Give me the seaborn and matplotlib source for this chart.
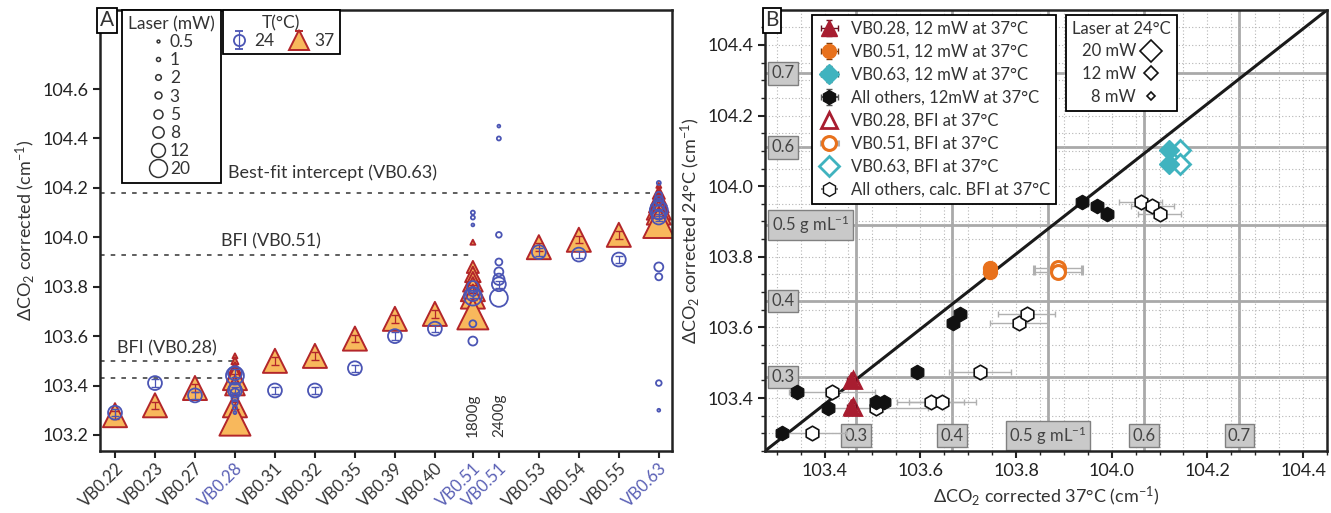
import numpy as np
import pandas as pd
import matplotlib
matplotlib.use("Agg")
import matplotlib.pyplot as plt
import matplotlib.transforms as mtransforms
from matplotlib.lines import Line2D
import seaborn as sns

sns.set_theme(style="ticks")
plt.rcParams['font.family'] = ['Lato', 'DejaVu Sans']
plt.rcParams['mathtext.fontset'] = 'custom'
plt.rcParams['mathtext.rm'] = 'Lato'
plt.rcParams['mathtext.it'] = 'Lato'
plt.rcParams['text.color'] = '#333333'
plt.rcParams['axes.labelcolor'] = '#333333'
plt.rcParams['xtick.color'] = '#222222'
plt.rcParams['ytick.color'] = '#222222'

# ---------------- panel A data ----------------
sample_a = ['VB0.22', 'VB0.23', 'VB0.27', 'VB0.28', 'VB0.31', 'VB0.32', 'VB0.35',
            'VB0.39', 'VB0.40', 'VB0.51', 'VB0.51', 'VB0.53', 'VB0.54', 'VB0.55', 'VB0.63']
slot_a = [0, 1, 2, 3, 4, 5, 6, 7, 8, 8.95, 9.6, 10.6, 11.6, 12.6, 13.6]
blue_samples = ['VB0.28', 'VB0.51', 'VB0.63']
laser_levels = [0.5, 1, 2, 3, 5, 8, 12, 20]

# 24 C, laser power (mW) and dCO2 per sample
a24_laser = [
    [12], [12], [12],
    [0.5, 1, 2, 3, 5, 8, 12, 12, 20],
    [12], [12], [12], [12], [12],
    [0.5, 1, 1, 3, 5, 5, 8, 12, 20],
    [0.5, 1, 2, 3, 5, 8, 12, 20],
    [12], [12], [12],
    [0.5, 2, 3, 5, 1, 3, 5, 8, 12, 12, 20],
]
a24_value = [
    [103.29], [103.41], [103.36],
    [103.29, 103.31, 103.33, 103.35, 103.37, 103.39, 103.38, 103.45, 103.44],
    [103.38], [103.38], [103.47], [103.60], [103.63],
    [104.05, 104.08, 104.10, 103.65, 103.58, 103.78, 103.80, 103.77, 103.76],
    [104.45, 104.40, 104.01, 103.90, 103.86, 103.83, 103.81, 103.755],
    [103.94], [103.93], [103.91],
    [103.30, 103.41, 103.84, 103.88, 104.22, 104.17, 104.15, 104.13, 104.10, 104.08, 104.11],
]
# 37 C
a37_laser = [
    [12], [12], [12],
    [0.5, 1, 3, 5, 12, 8, 12, 20],
    [12], [12], [12], [12], [12],
    [0.5, 3, 5, 8, 12, 12, 20],
    [],
    [12], [12], [12],
    [0.5, 3, 5, 8, 12, 12, 20],
]
a37_value = [
    [103.28], [103.32], [103.39],
    [103.52, 103.50, 103.47, 103.45, 103.43, 103.40, 103.32, 103.26],
    [103.50], [103.52], [103.59], [103.67], [103.69],
    [103.98, 103.88, 103.85, 103.82, 103.79, 103.76, 103.69],
    [],
    [103.96], [103.99], [104.01],
    [104.21, 104.18, 104.16, 104.14, 104.12, 104.10, 104.06],
]
err_a = 0.015

bfi_value = [104.18, 103.93, 103.50, 103.43]
bfi_sample = [14, 9, 3, 3]
bfi_text = ['Best-fit intercept (VB0.63)', 'BFI (VB0.51)', 'BFI (VB0.28)']

# ---------------- panel B data ----------------
others_x37 = [103.31, 103.343, 103.408, 103.507, 103.524, 103.594, 103.668, 103.684, 103.939, 103.969, 103.99]
others_y24 = [103.30, 103.418, 103.371, 103.39, 103.39, 103.474, 103.613, 103.638, 103.956, 103.944, 103.921]
others_bfi = [103.374, 103.415, 103.507, 103.622, 103.646, 103.724, 103.806, 103.822, 104.061, 104.085, 104.10]
others_bfi_err = [0.07, 0.09, 0.11, 0.07, 0.07, 0.065, 0.06, 0.06, 0.045, 0.045, 0.045]

vb028_x37 = [103.456, 103.456]
vb028_y24 = [103.451, 103.375]
vb028_bfi = [103.46, 103.46]
vb051_x37 = [103.745, 103.745]
vb051_y24 = [103.767, 103.758]
vb051_bfi = [103.888, 103.888]
vb063_x37 = [104.119, 104.119]
vb063_y24 = [104.103, 104.063]
vb063_bfi = [104.143, 104.143]

dens_labels = ['0.3', '0.4', '0.5 g mL$^{-1}$', '0.6', '0.7']
dens_37 = [103.465, 103.667, 103.867, 104.067, 104.267]
dens_24 = [103.46, 103.675, 103.89, 104.11, 104.32]
legend_laser_24 = [20, 12, 8]

blue = '#4b55b4'
tri_fill = '#f8b85c'
tri_edge = '#b3262a'
red_b = '#a81d30'
orange_b = '#e8711c'
cyan_b = '#40b3bf'

fig = plt.figure(figsize=(13.31, 5.13), dpi=100)
axA = fig.add_axes([100 / 1331, 1 - 451 / 513, 572 / 1331, 441 / 513])
axB = fig.add_axes([765 / 1331, 1 - 451 / 513, 562 / 1331, 441 / 513])

# ---------------- panel A ----------------
rows = []
for i, (ls, vs) in enumerate(zip(a24_laser, a24_value)):
    rows += [(slot_a[i], p, v, '24') for p, v in zip(ls, vs)]
for i, (ls, vs) in enumerate(zip(a37_laser, a37_value)):
    rows += [(slot_a[i], p, v, '37') for p, v in zip(ls, vs)]
df = pd.DataFrame(rows, columns=['slot', 'laser', 'value', 'temp'])

circ_sizes = {p: 8.3 * p for p in laser_levels}
tri_sizes = {p: 25 * p for p in laser_levels}
d37 = df[df.temp == '37']
d24 = df[df.temp == '24']
sns.scatterplot(data=d37, x='slot', y='value', size='laser', sizes=tri_sizes, marker='^',
                color=tri_fill, edgecolor=tri_edge, linewidth=1.4, legend=False, ax=axA, zorder=2)
sns.scatterplot(data=d24, x='slot', y='value', size='laser', sizes=circ_sizes, marker='o',
                facecolor='none', edgecolor=blue, linewidth=1.3, legend=False, ax=axA, zorder=3)
e37 = d37[d37.laser == 12]
e24 = d24[d24.laser == 12]
axA.errorbar(e37.slot, e37.value, yerr=err_a, fmt='none', ecolor=tri_edge, elinewidth=0.9, capsize=3, zorder=2.5)
axA.errorbar(e24.slot, e24.value, yerr=err_a, fmt='none', ecolor=blue, elinewidth=0.9, capsize=3, zorder=3.5)

xl = (-0.375, 13.93)
for v, s in zip(bfi_value, bfi_sample):
    axA.hlines(v, xl[0], slot_a[s], colors='#333333', linestyles=(0, (3, 4)), lw=1.1, zorder=1)
axA.text(5.45, bfi_value[0] + 0.08, bfi_text[0], ha='center', va='center', fontsize=13)
axA.text(3.9, bfi_value[1] + 0.055, bfi_text[1], ha='center', va='center', fontsize=13)
axA.text(1.3, bfi_value[2] + 0.05, bfi_text[2], ha='center', va='center', fontsize=13)
axA.text(slot_a[9], 103.19, '1800g', rotation=90, ha='center', va='bottom', fontsize=11)
axA.text(slot_a[10], 103.19, '2400g', rotation=90, ha='center', va='bottom', fontsize=11)

axA.set_xlim(*xl)
axA.set_ylim(103.135, 104.92)
axA.set_yticks(np.arange(103.2, 104.61, 0.2))
axA.set_yticklabels([f'{t:.1f}' for t in np.arange(103.2, 104.61, 0.2)])
axA.set_xticks(slot_a)
axA.set_xticklabels(sample_a, rotation=45, ha='right', rotation_mode='anchor')
for lab, name in zip(axA.get_xticklabels(), sample_a):
    lab.set_color('#5a60b5' if name in blue_samples else '#333333')
axA.tick_params(labelsize=13, direction='out', length=5, width=1.5)
axA.tick_params(axis='x', labelsize=12, pad=1.5)
axA.set_xlabel('')
axA.set_ylabel('ΔCO$_2$ corrected (cm$^{-1}$)', fontsize=13)
for sp in axA.spines.values():
    sp.set_linewidth(1.8)
    sp.set_color('#222222')
    sp.set_visible(True)

laser_handles = [Line2D([], [], ls='none', marker='o', mfc='none', mec='#333333', mew=1.1,
                        ms=2.88 * np.sqrt(p)) for p in laser_levels]
legL = axA.legend(laser_handles, [f'{p:g}' for p in laser_levels], title='Laser (mW)',
                  loc='upper left', bbox_to_anchor=(0.0385, 1.0), borderaxespad=0,
                  fontsize=12.5, title_fontsize=12.5, labelspacing=0.12, handletextpad=0.2,
                  handlelength=1.0, fancybox=False, edgecolor='black', framealpha=1,
                  borderpad=0.35)
legL.get_frame().set_linewidth(1.3)
axA.add_artist(legL)
hb = axA.errorbar([np.nan], [np.nan], yerr=[err_a], fmt='o', ms=8, mfc='none', mec=blue, mew=1.3,
                  ecolor=blue, elinewidth=0.9, capsize=3)
ht = axA.errorbar([np.nan], [np.nan], yerr=[err_a], fmt='^', ms=15, mfc=tri_fill, mec=tri_edge, mew=1.4,
                  ecolor=tri_edge, elinewidth=0.9, capsize=3)
legT = axA.legend([hb, ht], ['24', '37'], title='T(°C)', ncol=2, loc='upper left',
                  bbox_to_anchor=(0.215, 1.0), borderaxespad=0, fontsize=12.5, title_fontsize=12.5,
                  handletextpad=0.3, columnspacing=0.8, handlelength=1.2, fancybox=False,
                  edgecolor='black', framealpha=1, borderpad=0.3, labelspacing=0.1)
legT.get_frame().set_linewidth(1.3)
axA.text(0, 1, 'A', transform=axA.transAxes, ha='left', va='top', fontsize=15,
         bbox=dict(boxstyle='square,pad=0.12', fc='white', ec='black', lw=1.3), zorder=10)

# ---------------- panel B ----------------
axB.set_xlim(103.2755, 104.427)
axB.set_ylim(103.25, 104.499)
axB.set_xticks(np.arange(103.4, 104.41, 0.2))
axB.set_xticklabels([f'{t:.1f}' for t in np.arange(103.4, 104.41, 0.2)])
axB.set_yticks(np.arange(103.4, 104.41, 0.2))
axB.set_yticklabels([f'{t:.1f}' for t in np.arange(103.4, 104.41, 0.2)])
axB.set_xticks(np.arange(103.3, 104.45, 0.05), minor=True)
axB.set_yticks(np.arange(103.25, 104.5, 0.05), minor=True)
axB.grid(True, which='both', ls=(0, (1, 2)), color='#b5b5b5', lw=0.8, zorder=0)
axB.set_axisbelow(True)
axB.tick_params(labelsize=13, direction='out', length=5, width=1.5)
axB.tick_params(which='minor', direction='out', length=3, width=1.0)
for sp in axB.spines.values():
    sp.set_linewidth(1.8)
    sp.set_color('#222222')
    sp.set_visible(True)

box = dict(boxstyle='square,pad=0.2', fc='#c9c9c9', ec='#808080', lw=1.0)
trX = mtransforms.blended_transform_factory(axB.transData, axB.transAxes)
trY = mtransforms.blended_transform_factory(axB.transAxes, axB.transData)
for d, lab in zip(dens_37, dens_labels):
    axB.axvline(d, color='#a9a9a9', lw=2, zorder=0.5)
    axB.text(d, 0.035, lab, transform=trX, ha='center', va='center', fontsize=12, color='#444444',
             bbox=box, zorder=1)
for d, lab in zip(dens_24, dens_labels):
    axB.axhline(d, color='#a9a9a9', lw=2, zorder=0.5)
    axB.text(0.012, d, lab, transform=trY, ha='left', va='center', fontsize=12, color='#444444',
             bbox=box, zorder=1)
# diagonal reference line, corner to corner as in the original
axB.plot([0, 1], [0, 1], transform=axB.transAxes, color='#1a1a1a', lw=2.2, zorder=2)

h8 = axB.errorbar(others_bfi, others_y24, xerr=others_bfi_err, fmt='none', ecolor='#b0b0b0',
                  elinewidth=1.0, capsize=2, zorder=2.5)
sns.scatterplot(x=others_bfi, y=others_y24, marker='h', s=110, facecolor='white', edgecolor='#111111',
                linewidth=1.2, legend=False, ax=axB, zorder=3)
h4 = axB.errorbar(others_x37, others_y24, xerr=0.012, yerr=0.012, fmt='none', ecolor='#555555',
                  elinewidth=1.0, capsize=2, zorder=3.5)
sns.scatterplot(x=others_x37, y=others_y24, marker='h', s=110, color='#111111', edgecolor='#111111',
                linewidth=0.8, legend=False, ax=axB, zorder=4)

h5 = axB.errorbar(vb028_bfi, vb028_y24, fmt='^', ms=11, mfc='white', mec=red_b, mew=2, zorder=4)
h1 = axB.errorbar(vb028_x37, vb028_y24, xerr=0.01, yerr=0.01, fmt='^', ms=11, mfc=red_b, mec=red_b,
                  ecolor='#6a1020', elinewidth=1, capsize=2, zorder=5)
h6 = axB.errorbar(vb051_bfi, vb051_y24, xerr=0.05, fmt='o', ms=10, mfc='white', mec=orange_b, mew=2.2,
                  ecolor='#b0b0b0', elinewidth=1, capsize=2, zorder=4)
h2 = axB.errorbar(vb051_x37, vb051_y24, xerr=0.01, yerr=0.01, fmt='o', ms=10, mfc=orange_b, mec=orange_b,
                  ecolor='#7a3a0a', elinewidth=1, capsize=2, zorder=5)
h7 = axB.errorbar(vb063_bfi, vb063_y24, fmt='D', ms=10, mfc='white', mec=cyan_b, mew=2, zorder=4)
h3 = axB.errorbar(vb063_x37, vb063_y24, xerr=0.01, yerr=0.01, fmt='D', ms=10, mfc=cyan_b, mec=cyan_b,
                  ecolor='#1a4a50', elinewidth=1, capsize=2, zorder=5)

hb4 = axB.errorbar([np.nan], [np.nan], xerr=[0.01], yerr=[0.01], fmt='h', ms=10, color='#111111',
                   ecolor='#555555', capsize=2)
hb8 = axB.errorbar([np.nan], [np.nan], xerr=[0.01], fmt='h', ms=10, mfc='white', mec='#111111',
                   ecolor='#888888', capsize=0)
labels_b = ['VB0.28, 12 mW at 37°C', 'VB0.51, 12 mW at 37°C', 'VB0.63, 12 mW at 37°C',
            'All others, 12mW at 37°C', 'VB0.28, BFI at 37°C', 'VB0.51, BFI at 37°C',
            'VB0.63, BFI at 37°C', 'All others, calc. BFI at 37°C']
legB = axB.legend([h1, h2, h3, hb4, h5, h6, h7, hb8], labels_b, loc='upper left',
                  bbox_to_anchor=(0.0836, 0.989), borderaxespad=0, fontsize=12, labelspacing=0.42,
                  handletextpad=0.6, handlelength=1.4, fancybox=False, edgecolor='black',
                  framealpha=1, borderpad=0.35)
legB.get_frame().set_linewidth(1.3)
legB.set_zorder(10)
axB.add_artist(legB)
dia_handles = [Line2D([], [], ls='none', marker='D', mfc='white', mec='#111111', mew=1.2,
                      ms=0.56 * p) for p in legend_laser_24]
legD = axB.legend(dia_handles, [f'{p} mW' for p in legend_laser_24], title='Laser at 24°C',
                  loc='upper left', bbox_to_anchor=(0.536, 0.989), borderaxespad=0, fontsize=12,
                  title_fontsize=12, markerfirst=False, labelspacing=0.4, handletextpad=0.3,
                  handlelength=1.2, fancybox=False, edgecolor='black', framealpha=1, borderpad=0.35)
legD.get_frame().set_linewidth(1.3)
legD.set_zorder(10)
axB.text(0, 1, 'B', transform=axB.transAxes, ha='left', va='top', fontsize=15,
         bbox=dict(boxstyle='square,pad=0.12', fc='white', ec='black', lw=1.3), zorder=11)
axB.set_xlabel('ΔCO$_2$ corrected 37°C (cm$^{-1}$)', fontsize=13)
axB.set_ylabel('ΔCO$_2$ corrected 24°C (cm$^{-1}$)', fontsize=13)

fig.savefig('out.png', dpi=100)
